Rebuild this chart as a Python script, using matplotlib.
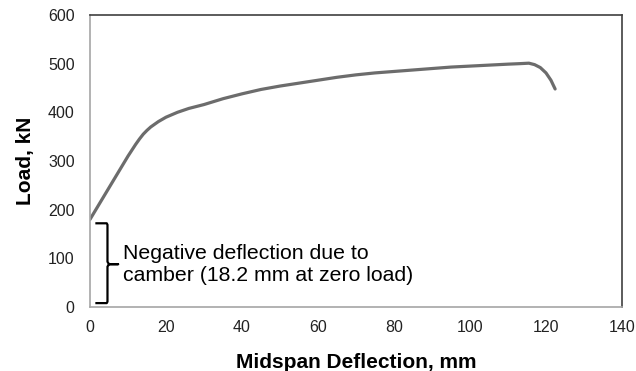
import matplotlib
matplotlib.use("Agg")
import matplotlib.pyplot as plt

# load-deflection curve
deflection = [0, 2, 4, 6, 8, 10, 12, 13, 14, 15, 16, 18, 20, 23, 26, 30, 35, 40,
              45, 50, 55, 60, 65, 70, 75, 80, 85, 90, 95, 100, 105, 110, 113,
              115.5, 117, 118.5, 120, 121.3, 122.4]
load = [180, 206, 232, 258, 284, 310, 334, 345, 355, 363, 370, 381, 390, 400,
        408, 416, 428, 438, 447, 454, 460, 466, 472, 477, 481, 484, 487, 490,
        493, 495, 497, 499, 500, 501, 498, 492, 481, 466, 448]

x_ticks = [0, 20, 40, 60, 80, 100, 120, 140]
y_ticks = [0, 100, 200, 300, 400, 500, 600]

note = "Negative deflection due to\ncamber (18.2 mm at zero load)"

plt.rcParams['font.family'] = ['Liberation Sans', 'DejaVu Sans']

fig = plt.figure(figsize=(6.36, 3.71), dpi=100)
ax = fig.add_axes([90 / 636, 64 / 371, 532 / 636, 292 / 371])

ax.plot(deflection, load, color='#6c6c6c', lw=2.3, solid_capstyle='round',
        solid_joinstyle='round')

# bracket marking the camber offset
bx = [1.7, 4.4, 4.6, 4.6, 5.0, 7.4, 5.0, 4.6, 4.6, 4.4, 1.7]
by = [172, 172, 169, 93, 88, 88, 88, 83, 11, 8, 8]
ax.plot(bx, by, color='black', lw=1.6, solid_joinstyle='round')
ax.text(8.8, 88, note, fontsize=15.3, va='center', ha='left', linespacing=1.2)

ax.set_xlim(0, 140)
ax.set_ylim(0, 600)
ax.set_xticks(x_ticks)
ax.set_yticks(y_ticks)
ax.tick_params(length=0, labelsize=11.5, colors='#222222')
ax.tick_params(axis='y', pad=11)
ax.tick_params(axis='x', pad=9)

for side in ['left', 'bottom']:
    ax.spines[side].set_color('#a6a6a6')
    ax.spines[side].set_linewidth(1.2)
for side in ['top', 'right']:
    ax.spines[side].set_color('#404040')
    ax.spines[side].set_linewidth(1.2)

ax.set_xlabel('Midspan Deflection, mm', fontsize=15, fontweight='bold', labelpad=13)
ax.set_ylabel('Load, kN', fontsize=15, fontweight='bold', labelpad=9)

fig.savefig('out.png', dpi=100)
